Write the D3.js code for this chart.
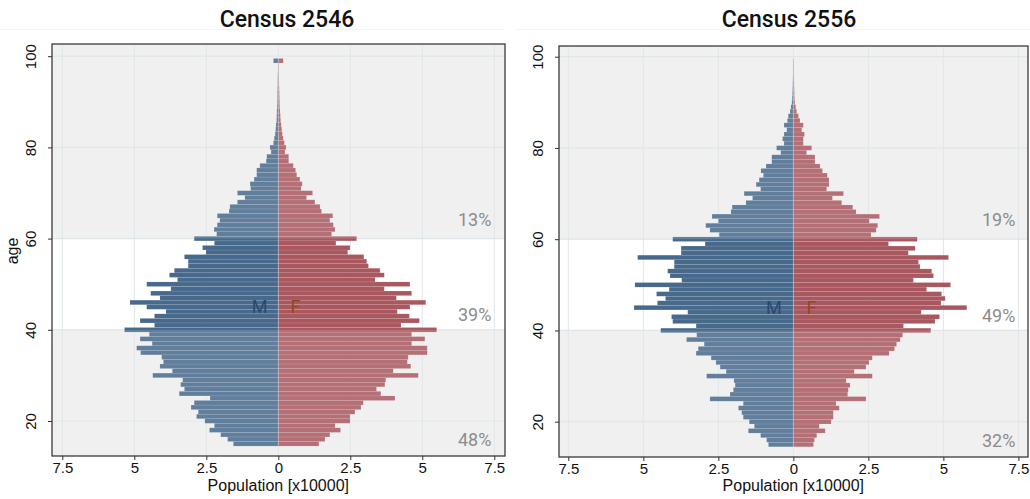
<!DOCTYPE html>
<html><head><meta charset="utf-8">
<script src="https://cdn.jsdelivr.net/npm/d3@7"></script>
<style>body{margin:0;background:#fff}svg{display:block}</style>
</head><body><svg id="c" width="1030" height="499"></svg>
<script>
// ages 15 .. 99 (99 = 99+)
const ages = d3.range(15, 100);

const male2546 = [1.56,1.76,2.00,2.39,2.22,2.55,2.84,2.78,3.03,2.92,
  2.37,3.44,3.26,3.39,3.32,4.36,3.68,4.11,3.99,4.05,
  4.78,4.92,4.38,4.80,4.48,5.34,4.30,4.80,4.30,3.90,
  4.57,5.15,4.11,4.43,3.73,4.57,3.50,3.78,3.61,3.13,
  3.13,3.26,2.51,2.63,2.22,2.92,2.14,2.23,2.12,2.03,
  2.12,1.71,1.68,1.42,1.16,1.42,0.96,0.98,0.84,0.75,
  0.75,0.64,0.42,0.40,0.25,0.29,0.17,0.14,0.11,0.09,
  0.08,0.06,0.055,0.05,0.04,0.035,0.03,0.03,0.025,0.02,
  0.02,0.015,0.01,0.01,0.17];
const female2546 = [1.41,1.62,1.79,2.16,1.97,2.49,2.49,2.66,2.87,2.95,
  4.05,3.56,3.41,3.70,3.73,4.86,3.99,4.60,4.48,4.51,
  5.17,5.17,4.63,5.09,4.63,5.50,4.26,4.90,4.55,4.13,
  4.57,5.12,4.10,4.63,3.68,4.57,3.36,3.68,3.53,3.13,
  3.07,2.97,2.41,2.49,2.00,2.72,1.85,1.97,1.91,1.79,
  1.89,1.50,1.45,1.27,0.98,1.19,0.79,0.83,0.75,0.64,
  0.60,0.52,0.36,0.36,0.23,0.27,0.21,0.17,0.14,0.12,
  0.10,0.08,0.07,0.06,0.05,0.045,0.04,0.035,0.03,0.025,
  0.02,0.015,0.01,0.01,0.17];
const male2556 = [0.83,0.89,1.09,1.50,1.30,1.47,1.67,1.72,1.83,1.67,
  2.78,2.11,2.00,1.94,1.98,2.89,2.24,2.44,2.58,2.74,
  3.24,3.17,2.97,3.56,3.22,4.42,3.24,4.02,4.06,3.52,
  5.31,4.53,4.26,4.56,4.14,5.28,3.72,4.11,4.19,3.97,
  3.97,5.19,3.74,3.74,2.94,4.02,2.47,2.78,2.92,2.50,
  2.71,2.08,2.04,1.58,1.36,1.64,1.09,1.24,1.14,1.00,
  1.08,0.91,0.72,0.72,0.42,0.56,0.31,0.36,0.31,0.22,
  0.31,0.20,0.17,0.11,0.08,0.05,0.04,0.03,0.025,0.02,
  0.015,0.01,0.01,0.01,0.01];
const female2556 = [0.67,0.70,0.78,1.06,0.86,1.26,1.33,1.33,1.53,1.42,
  2.42,1.81,1.83,1.89,1.76,2.63,2.03,2.42,2.52,2.63,
  3.19,3.37,3.44,3.56,3.64,4.58,3.67,4.72,4.87,4.26,
  5.78,4.92,5.06,4.94,4.44,5.24,4.00,4.67,4.61,4.22,
  4.17,5.17,3.83,4.06,3.17,4.13,2.59,2.76,2.81,2.53,
  2.87,2.09,1.98,1.61,1.30,1.67,1.11,1.19,1.19,1.13,
  0.97,0.89,0.72,0.72,0.44,0.61,0.33,0.33,0.37,0.28,
  0.33,0.22,0.17,0.11,0.08,0.05,0.04,0.035,0.03,0.025,
  0.02,0.015,0.01,0.01,0.01];

const xTicks = [-7.5, -5, -2.5, 0, 2.5, 5, 7.5];
const yTicks = [20, 40, 60, 80, 100];
const bandBreaks = [40, 60];
const pct2546 = ["48%", "39%", "13%"];
const pct2556 = ["32%", "49%", "19%"];
const titles = ["Census 2546", "Census 2556"];
const sexLabels = ["M", "F"];
const xTitle = "Population [x10000]";
const yTitle = "age";

const svg = d3.select("#c");
const maleCol = "#46698c", femaleCol = "#a9585f";
const bgCol = "#f0f0f0", gridCol = "#dde5e8";

const panels = [
  {title: titles[0], male: male2546, female: female2546, pct: pct2546,
   x0: 52, x1: 505, y0: 44, y1: 456, xd: [-7.858, 7.872], yd: [12.325, 102.675], titleX: 287, ylab: true},
  {title: titles[1], male: male2556, female: female2556, pct: pct2556,
   x0: 559, x1: 1028, y0: 46, y1: 457, xd: [-7.81, 7.82], yd: [12.263, 102.345], titleX: 789, ylab: false}
];

const labelAges = [14.5, 41.9, 62.8];

panels.forEach((p, pi) => {
  const xs = d3.scaleLinear().domain(p.xd).range([p.x0, p.x1]);
  const ys = d3.scaleLinear().domain(p.yd).range([p.y1, p.y0]);
  const g = svg.append("g");
  const W = p.x1 - p.x0, H = p.y1 - p.y0;

  // strip line
  svg.append("line").attr("x1", pi === 0 ? 0 : 515).attr("x2", pi === 0 ? 505 : 1030)
    .attr("y1", 29.5).attr("y2", 29.5).attr("stroke", "#f3f3f3").attr("stroke-width", 1);

  // title
  svg.append("text").attr("x", p.titleX).attr("y", 27).attr("text-anchor", "middle")
    .attr("font-family", "Roboto, sans-serif").attr("font-weight", 500).attr("font-size", 23)
    .attr("fill", "#111").text(p.title);

  // background
  g.append("rect").attr("x", p.x0).attr("y", p.y0).attr("width", W).attr("height", H).attr("fill", bgCol);
  g.append("rect").attr("x", p.x0).attr("y", ys(bandBreaks[1])).attr("width", W)
    .attr("height", ys(bandBreaks[0]) - ys(bandBreaks[1])).attr("fill", "#fff");

  // grid
  g.selectAll(".vg").data(xTicks).join("line")
    .attr("x1", d => xs(d)).attr("x2", d => xs(d)).attr("y1", p.y0).attr("y2", p.y1)
    .attr("stroke", gridCol).attr("stroke-width", 1);
  g.selectAll(".hg").data(yTicks).join("line")
    .attr("x1", p.x0).attr("x2", p.x1).attr("y1", d => ys(d)).attr("y2", d => ys(d))
    .attr("stroke", gridCol).attr("stroke-width", 1.2);

  // bars
  const rows = ages.map((a, i) => ({age: a, m: p.male[i], f: p.female[i]}));
  g.selectAll(".mb").data(rows).join("rect")
    .attr("x", d => xs(-d.m)).attr("width", d => xs(0) - xs(-d.m))
    .attr("y", d => ys(d.age + 0.5)).attr("height", d => ys(d.age - 0.5) - ys(d.age + 0.5))
    .attr("fill", maleCol).attr("stroke", "rgba(255,255,255,0.18)").attr("stroke-width", 0.5);
  g.selectAll(".fb").data(rows).join("rect")
    .attr("x", xs(0)).attr("width", d => xs(d.f) - xs(0))
    .attr("y", d => ys(d.age + 0.5)).attr("height", d => ys(d.age - 0.5) - ys(d.age + 0.5))
    .attr("fill", femaleCol).attr("stroke", "rgba(255,255,255,0.18)").attr("stroke-width", 0.5);

  // band overlays (lighten bars outside 40-60)
  g.append("rect").attr("x", p.x0).attr("y", ys(bandBreaks[0])).attr("width", W)
    .attr("height", p.y1 - ys(bandBreaks[0])).attr("fill", bgCol).attr("opacity", 0.16);
  g.append("rect").attr("x", p.x0).attr("y", p.y0).attr("width", W)
    .attr("height", ys(bandBreaks[1]) - p.y0).attr("fill", bgCol).attr("opacity", 0.16);

  // center line
  g.append("line").attr("x1", xs(0)).attr("x2", xs(0)).attr("y1", ys(ages[ages.length-1] + 0.5)).attr("y2", ys(ages[0] - 0.5))
    .attr("stroke", "#c8d2d9").attr("stroke-opacity", 0.4).attr("stroke-width", 1);

  // frame
  g.append("rect").attr("x", p.x0).attr("y", p.y0).attr("width", W).attr("height", H)
    .attr("fill", "none").attr("stroke", "#3a3a3a").attr("stroke-width", 1.3);

  // x axis
  const xa = g.append("g").attr("transform", `translate(0,${p.y1})`)
    .call(d3.axisBottom(xs).tickValues(xTicks).tickSize(4).tickPadding(2).tickFormat(d => Math.abs(d)));
  xa.select(".domain").remove();
  xa.selectAll("line").attr("stroke", "#333");
  xa.selectAll("text").attr("font-family", "'Liberation Sans', Arial, sans-serif")
    .attr("font-size", 15).attr("fill", "#111");

  // y axis
  const ya = g.append("g").attr("transform", `translate(${p.x0},0)`)
    .call(d3.axisLeft(ys).tickValues(yTicks).tickSize(4));
  ya.select(".domain").remove();
  ya.selectAll("line").attr("stroke", "#333");
  ya.selectAll("text").attr("x", null).attr("dy", null).attr("text-anchor", "middle")
    .attr("transform", "translate(-16,0) rotate(-90)")
    .attr("font-family", "'Liberation Sans', Arial, sans-serif")
    .attr("font-size", 15).attr("fill", "#111");

  // axis titles
  svg.append("text").attr("x", xs(0)).attr("y", 491).attr("text-anchor", "middle")
    .attr("font-family", "'Liberation Sans', Arial, sans-serif").attr("font-size", 16)
    .attr("fill", "#111").text(xTitle);
  if (p.ylab) {
    svg.append("text").attr("transform", `translate(18,251) rotate(-90)`).attr("text-anchor", "middle")
      .attr("font-family", "'Liberation Sans', Arial, sans-serif").attr("font-size", 16)
      .attr("fill", "#111").text(yTitle);
  }

  // percentages
  g.selectAll(".pct").data(p.pct).join("text")
    .attr("x", xs(7.4)).attr("y", (d, i) => ys(labelAges[i])).attr("text-anchor", "end")
    .attr("font-family", "Roboto, sans-serif").attr("font-size", 18).attr("fill", "#8c8c8c")
    .text(d => d);

  // M / F
  g.append("text").attr("x", xs(-0.65)).attr("y", ys(43.7)).attr("text-anchor", "middle")
    .attr("font-family", "Roboto, sans-serif").attr("font-size", 18).attr("fill", "#2b4870").text(sexLabels[0]);
  g.append("text").attr("x", xs(0.6)).attr("y", ys(43.7)).attr("text-anchor", "middle")
    .attr("font-family", "Roboto, sans-serif").attr("font-size", 18).attr("fill", "#8e4a1e").text(sexLabels[1]);
});
</script>
</body></html>
